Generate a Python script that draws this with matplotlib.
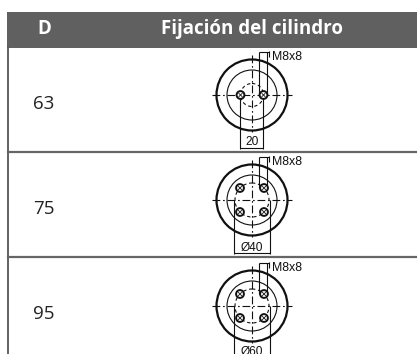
# Cylinder mounting table
import matplotlib
matplotlib.use("Agg")
import matplotlib.pyplot as plt
from matplotlib.patches import Circle, Rectangle

# table content
headers = ["D", "Fijación del cilindro"]
diameters = ["63", "75", "95"]
dimensions = ["20", "Ø40", "Ø60"]
thread = "M8x8"
hole_counts = [2, 4, 4]

gray = "#5f605f"
ink = "#111111"

W, H = 417, 354
centers_y = [95, 200, 306]
label_y = [104, 209, 314]
dim_y = [142, 248, 352]
row_lines = [152, 257]

fig = plt.figure(figsize=(W / 100, H / 100), dpi=100)
ax = fig.add_axes([0, 0, 1, 1])
ax.set_xlim(0, W)
ax.set_ylim(H, 0)
ax.axis("off")


def line(xs, ys, lw=0.8, **kw):
    ax.plot(xs, ys, color=ink, lw=lw, solid_capstyle="butt", **kw)


def drawing(cy, count, dim, dy):
    cx = 252
    ax.add_patch(Circle((cx, cy), 35.5, fill=False, ec=ink, lw=1.6))
    ax.add_patch(Circle((cx, cy), 25, fill=False, ec=ink, lw=0.8))
    # centre lines
    line([cx - 40, cx + 40], [cy, cy], dashes=(7, 2.5, 1.5, 2.5))
    line([cx, cx], [cy - 40, cy + 37], dashes=(7, 2.5, 1.5, 2.5))
    if count == 2:
        holes = [(cx - 11.5, cy), (cx + 11.5, cy)]
        ax.add_patch(Circle((cx, cy), 11.5, fill=False, ec=ink, lw=0.8,
                            ls=(0, (3, 2.5))))
        x0, x1 = holes[0][0], holes[1][0]
    else:
        holes = [(cx + a, cy + b) for a in (-12, 12) for b in (-12, 12)]
        ax.add_patch(Circle((cx, cy), 17, fill=False, ec=ink, lw=0.8,
                            ls=(0, (3, 2.5))))
        x0, x1 = cx - 18, cx + 18
    for hx, hy in holes:
        ax.add_patch(Circle((hx, hy), 3.9, fc="white", ec=ink, lw=1.4, zorder=3))
        ax.plot([hx - 1.6, hx + 1.6], [hy - 1.6, hy + 1.6], color=ink, lw=0.6, zorder=4)
        ax.plot([hx - 1.6, hx + 1.6], [hy + 1.6, hy - 1.6], color=ink, lw=0.6, zorder=4)
    # thread leader
    top = cy - 43
    end = cy - 12 if count == 4 else cy
    line([259, 259], [top, end])
    line([267, 267], [top, end])
    line([259, 269], [top, top])
    line([269, 269], [top - 1, top + 5])
    ax.text(272, top + 5, thread, fontsize=8.9, family="Liberation Sans",
            color=ink, va="center", ha="left")
    # bottom dimension
    line([x0, x0], [cy, cy + 54])
    line([x1, x1], [cy, cy + 54])
    line([x0, x1], [cy + 53, cy + 53])
    ax.text((x0 + x1) / 2, dy, dim, fontsize=8.6, family="Liberation Sans",
            color=ink, va="center", ha="center")


# header band and borders
ax.add_patch(Rectangle((7, 12), W - 7, 36, fc=gray, ec="none"))
ax.plot([8.5, 8.5], [48, H], color="#555555", lw=1.3)
for y in row_lines:
    ax.plot([8, W], [y, y], color="#666666", lw=1.6)

ax.text(44, 29, headers[0], color="white", fontsize=13.5, fontweight="bold",
        family="Open Sans", ha="center", va="center")
ax.text(252, 29, headers[1], color="white", fontsize=13.5, fontweight="bold",
        family="Open Sans", ha="center", va="center")

for d, dim, n, cy, ly, dy in zip(diameters, dimensions, hole_counts, centers_y, label_y, dim_y):
    ax.text(44, ly, d, color="#222222", fontsize=13.5, family="Open Sans",
            ha="center", va="center")
    drawing(cy, n, dim, dy)

fig.savefig("out.png", dpi=100)
